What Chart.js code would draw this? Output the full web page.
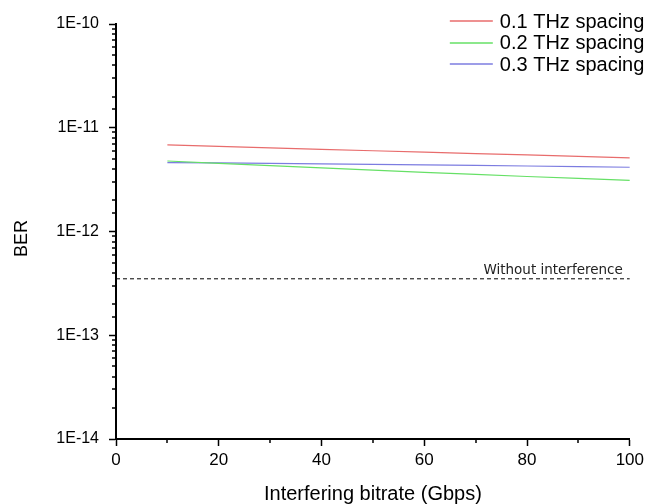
<!DOCTYPE html>
<html lang="en">

<head>
    <meta charset="UTF-8">
    <title>BER vs interfering bitrate</title>
    <script src="https://cdn.jsdelivr.net/npm/chart.js@4.4.1/dist/chart.umd.min.js"></script>
    <style>
        html, body { margin: 0; padding: 0; background: #fff; }
        canvas { display: block; }
    </style>
</head>

<body>
    <canvas id="berChart" width="648" height="504"></canvas>

    <script>
        // data
        var bitrates = [10, 20, 30, 40, 50, 60, 70, 80, 90, 100];
        var spacing01 = [6.85e-12, 6.62e-12, 6.40e-12, 6.20e-12, 6.00e-12, 5.82e-12, 5.64e-12, 5.47e-12, 5.30e-12, 5.13e-12];
        var spacing02 = [4.78e-12, 4.54e-12, 4.31e-12, 4.10e-12, 3.90e-12, 3.72e-12, 3.55e-12, 3.39e-12, 3.25e-12, 3.11e-12];
        var spacing03 = [4.62e-12, 4.58e-12, 4.53e-12, 4.48e-12, 4.43e-12, 4.38e-12, 4.33e-12, 4.28e-12, 4.22e-12, 4.16e-12];
        var seriesNames = ["0.1 THz spacing", "0.2 THz spacing", "0.3 THz spacing"];
        var seriesColors = ["#e86c6c", "#66e066", "#7c7ce0"];
        var baselineX = [0, 100];
        var baselineBER = 3.5e-13;
        var baselineLabel = "Without interference";
        var xTitle = "Interfering bitrate (Gbps)";
        var yTitle = "BER";

        var font = "'Liberation Sans', Arial, sans-serif";

        function toPoints(ys) {
            return ys.map(function (y, i) { return { x: bitrates[i], y: y }; });
        }

        function isDecade(v) {
            var e = Math.log10(v);
            return Math.abs(e - Math.round(e)) < 1e-6;
        }

        // minor ticks are drawn shorter than the major ones
        var minorTicks = {
            id: "minorTicks",
            afterDraw: function (chart) {
                var ctx = chart.ctx;
                var xs = chart.scales.x, ys = chart.scales.y;
                ctx.save();
                ctx.strokeStyle = "#000";
                ctx.lineWidth = 1.5;
                ctx.beginPath();
                xs.ticks.forEach(function (t) {
                    if (t.value % 20 === 0) return;
                    var px = Math.round(xs.getPixelForValue(t.value));
                    ctx.moveTo(px, ys.bottom);
                    ctx.lineTo(px, ys.bottom + 4);
                });
                ys.ticks.forEach(function (t) {
                    if (isDecade(t.value)) return;
                    var py = Math.round(ys.getPixelForValue(t.value));
                    ctx.moveTo(xs.left, py);
                    ctx.lineTo(xs.left - 4, py);
                });
                ctx.stroke();
                ctx.restore();
            }
        };

        // legend in the top right corner, the y title and the baseline label
        var annotations = {
            id: "annotations",
            afterDraw: function (chart) {
                var ctx = chart.ctx;
                var xs = chart.scales.x, ys = chart.scales.y;
                ctx.save();

                ctx.font = "20px " + font;
                ctx.textBaseline = "middle";
                ctx.textAlign = "left";
                for (var i = 0; i < seriesNames.length; i++) {
                    var ly = 21 + i * 21.5;
                    var lx = xs.right - 180;
                    ctx.strokeStyle = seriesColors[i];
                    ctx.lineWidth = 1.5;
                    ctx.beginPath();
                    ctx.moveTo(lx, Math.round(ly));
                    ctx.lineTo(lx + 43, Math.round(ly));
                    ctx.stroke();
                    ctx.fillStyle = "#000";
                    ctx.fillText(seriesNames[i], lx + 50, ly + 1);
                }

                ctx.save();
                ctx.translate(22, (ys.top + ys.bottom) / 2 + 7);
                ctx.rotate(-Math.PI / 2);
                ctx.font = "18px " + font;
                ctx.textAlign = "center";
                ctx.fillText(yTitle, 0, 0);
                ctx.restore();

                ctx.font = "13.5px 'DejaVu Sans', sans-serif";
                ctx.fillStyle = "#222";
                ctx.textAlign = "right";
                ctx.textBaseline = "alphabetic";
                ctx.fillText(baselineLabel, xs.right - 7, ys.getPixelForValue(baselineBER) - 5);
                ctx.restore();
            }
        };

        var datasets = seriesNames.map(function (name, i) {
            return {
                label: name,
                data: toPoints([spacing01, spacing02, spacing03][i]),
                borderColor: seriesColors[i],
                borderWidth: 1.2,
                pointRadius: 0,
                tension: 0
            };
        });
        datasets.push({
            label: baselineLabel,
            data: baselineX.map(function (x) { return { x: x, y: baselineBER }; }),
            borderColor: "#000",
            borderWidth: 1,
            borderDash: [4, 3],
            pointRadius: 0
        });

        new Chart("berChart", {
            type: "line",
            data: { datasets: datasets },
            options: {
                responsive: false,
                animation: false,
                devicePixelRatio: 1,
                layout: { padding: { top: 24, right: 18, left: 0, bottom: 0 } },
                plugins: {
                    legend: { display: false },
                    tooltip: { enabled: false }
                },
                scales: {
                    x: {
                        type: "linear",
                        min: 0,
                        max: 100,
                        afterFit: function (s) { s.height = 65; },
                        border: { color: "#000", width: 2 },
                        grid: {
                            drawOnChartArea: false,
                            tickLength: 7,
                            tickWidth: 1.5,
                            tickColor: function (c) { return c.tick && c.tick.value % 20 === 0 ? "#000" : "rgba(0,0,0,0)"; }
                        },
                        ticks: {
                            stepSize: 10,
                            autoSkip: false,
                            maxRotation: 0,
                            padding: 4,
                            color: "#000",
                            font: { family: font, size: 17 },
                            callback: function (v) { return v % 20 === 0 ? String(v) : ""; }
                        },
                        title: {
                            display: true,
                            text: xTitle,
                            color: "#000",
                            font: { family: font, size: 20, lineHeight: 1 },
                            padding: { top: 0, bottom: 0 }
                        }
                    },
                    y: {
                        type: "logarithmic",
                        min: 1e-14,
                        max: 1e-10,
                        afterFit: function (s) { s.width = 116; },
                        border: { color: "#000", width: 2 },
                        grid: {
                            drawOnChartArea: false,
                            tickLength: 7,
                            tickWidth: 1.5,
                            tickColor: function (c) { return c.tick && isDecade(c.tick.value) ? "#000" : "rgba(0,0,0,0)"; }
                        },
                        ticks: {
                            autoSkip: false,
                            padding: 10,
                            color: "#000",
                            font: { family: font, size: 16 },
                            callback: function (v) {
                                return isDecade(v) ? "1E" + Math.round(Math.log10(v)) : "";
                            }
                        },
                        title: { display: false }
                    }
                }
            },
            plugins: [minorTicks, annotations]
        });
    </script>
</body>

</html>
